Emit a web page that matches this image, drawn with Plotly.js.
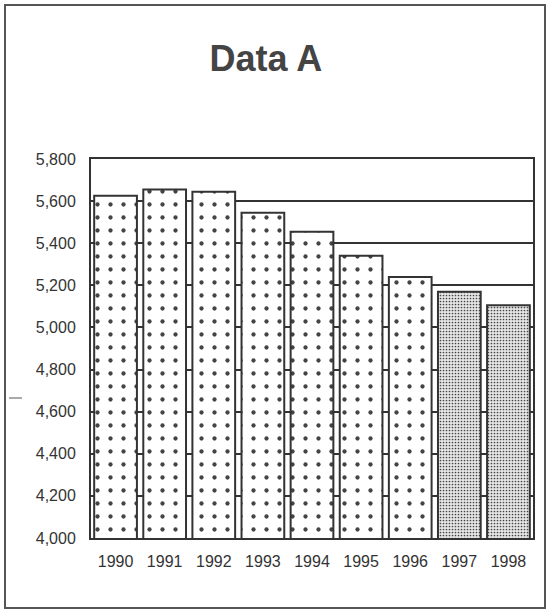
<!DOCTYPE html>
<html>
<head>
<meta charset="utf-8">
<script src="https://cdn.plot.ly/plotly-3.0.1.min.js"></script>
<style>
html,body{margin:0;padding:0;background:#ffffff;}
#chart{width:546px;height:610px;}
</style>
</head>
<body>
<div id="chart"></div>
<script>
const years = ['1990','1991','1992','1993','1994','1995','1996','1997','1998'];
const values = [5625, 5655, 5645, 5545, 5455, 5340, 5240, 5170, 5105];
const isEstimate = [false, false, false, false, false, false, false, true, true];
const yTicks = [4000, 4200, 4400, 4600, 4800, 5000, 5200, 5400, 5600, 5800];

const dark = '#333333';
const font = 'Liberation Sans, Arial, sans-serif';

const trace = {
  type: 'bar',
  x: years,
  y: values,
  marker: {
    color: isEstimate.map(e => e ? '#e6e6e6' : '#ffffff'),
    line: {color: dark, width: 2},
    pattern: {
      shape: '.',
      size: isEstimate.map(e => e ? 3 : 13),
      solidity: isEstimate.map(e => e ? 0.25 : 0.085),
      fgcolor: isEstimate.map(e => e ? '#c6c6c6' : '#000000'),
      fgopacity: 1,
      bgcolor: isEstimate.map(e => e ? '#f0f0f0' : '#ffffff'),
      fillmode: 'overlay'
    }
  },
  hoverinfo: 'x+y'
};

const layout = {
  width: 546,
  height: 610,
  margin: {l: 91, r: 13, t: 159, b: 72},
  paper_bgcolor: '#ffffff',
  plot_bgcolor: '#ffffff',
  showlegend: false,
  bargap: 0.13,
  title: {
    text: '<b>Data A</b>',
    font: {family: font, size: 36, color: '#444444'},
    x: 0.487, xref: 'container', xanchor: 'center',
    y: 0.905, yref: 'container', yanchor: 'middle'
  },
  xaxis: {
    type: 'category',
    showgrid: false,
    showline: true, linecolor: dark, linewidth: 2, mirror: true,
    ticks: '',
    ticklabelstandoff: 8,
    tickfont: {family: font, size: 16, color: dark},
    fixedrange: true
  },
  yaxis: {
    range: [4000, 5800],
    tickvals: yTicks,
    tickformat: ',.0f',
    showgrid: true, gridcolor: dark, gridwidth: 2,
    showline: true, linecolor: dark, linewidth: 2, mirror: true,
    zeroline: false,
    ticks: '',
    ticklabelstandoff: 10,
    tickfont: {family: font, size: 16, color: dark},
    fixedrange: true
  },
  shapes: [
    {type: 'rect', xref: 'paper', yref: 'paper',
     x0: (5 - 91) / 442, x1: (545 - 91) / 442,
     y0: (538 - 608) / 379, y1: (538 - 5) / 379,
     line: {color: '#555555', width: 2}, fillcolor: 'rgba(0,0,0,0)', layer: 'below'},
    {type: 'line', xref: 'paper', yref: 'paper',
     x0: (9 - 91) / 442, x1: (22 - 91) / 442,
     y0: (538 - 398) / 379, y1: (538 - 398) / 379,
     line: {color: '#555555', width: 1}}
  ]
};

Plotly.newPlot('chart', [trace], layout, {displayModeBar: false, staticPlot: true});
</script>
</body>
</html>
